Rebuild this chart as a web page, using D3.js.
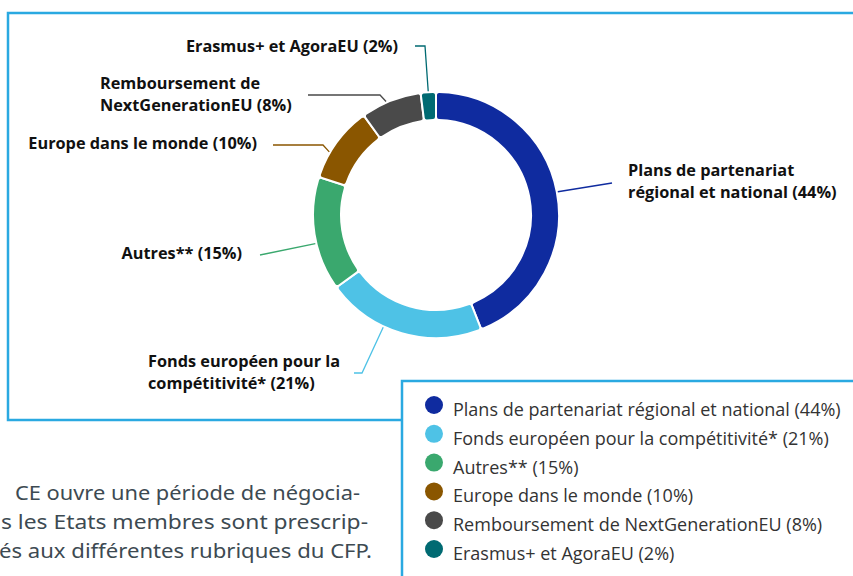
<!DOCTYPE html>
<html>
<head>
<meta charset="utf-8">
<script src="https://cdn.jsdelivr.net/npm/d3@7"></script>
<style>
  body { margin: 0; background: #fff; }
  svg { display: block; }
</style>
</head>
<body>
<svg id="chart" width="853" height="576"></svg>
<script>
// données du graphique
var categories = [
    "Plans de partenariat régional et national",
    "Fonds européen pour la compétitivité*",
    "Autres**",
    "Europe dans le monde",
    "Remboursement de NextGenerationEU",
    "Erasmus+ et AgoraEU"
]
var values = [44, 21, 15, 10, 8, 2]
var colors = ["#0f2b9f", "#4ec2e6", "#3aa86e", "#8a5600", "#4a4a4a", "#006a72"]
// libellés sur le graphique (retours à la ligne)
var labelLines = [
    ["Plans de partenariat", "régional et national (44%)"],
    ["Fonds européen pour la", "compétitivité* (21%)"],
    ["Autres** (15%)"],
    ["Europe dans le monde (10%)"],
    ["Remboursement de", "NextGenerationEU (8%)"],
    ["Erasmus+ et AgoraEU (2%)"]
]
var paragraph = [
    "CE ouvre une période de négocia-",
    "s les Etats membres sont prescrip-",
    "és aux différentes rubriques du CFP."
]

// mise en page
var cx = 436, cy = 215
var rOuter = 123, rInner = 95
var frameColor = "#2aa9e1"

// position des libellés et coudes des traits de rappel
var labelLayout = [
    { x: 628, y: 176, anchor: "start", elbow: [[612, 183]], nudge: 0 },
    { x: 148, y: 367, anchor: "start", elbow: [[354, 373], [362, 373]], nudge: 0.025 },
    { x: 242, y: 259, anchor: "end",   elbow: [[260, 255]], nudge: -0.012 },
    { x: 257, y: 149, anchor: "end",   elbow: [[273, 145], [323, 145]], nudge: -0.015 },
    { x: 100, y: 89,  anchor: "start", elbow: [[308, 95], [380, 95]], nudge: -0.006 },
    { x: 398, y: 52,  anchor: "end",   elbow: [[415, 46], [425, 46]], nudge: 0 }
]

var svg = d3.select("#chart")

// cadre principal
svg.append("rect")
    .attr("x", 8).attr("y", 13)
    .attr("width", 900).attr("height", 407)
    .attr("fill", "none")
    .attr("stroke", frameColor)
    .attr("stroke-width", 2.5)

var pie = d3.pie().sort(null).value(function (d) { return d })
var arcs = pie(values)

var arc = d3.arc()
    .innerRadius(rInner)
    .outerRadius(rOuter)
    .cornerRadius(3)

var g = svg.append("g").attr("transform", "translate(" + cx + "," + cy + ")")

g.selectAll("path.slice")
    .data(arcs)
    .enter()
    .append("path")
    .attr("class", "slice")
    .attr("d", arc)
    .attr("fill", function (d, i) { return colors[i] })
    .attr("stroke", "#fff")
    .attr("stroke-width", 2)

// traits de rappel
arcs.forEach(function (d, i) {
    var lay = labelLayout[i]
    var a = (d.startAngle + d.endAngle) / 2 + lay.nudge * 2 * Math.PI
    var p = [cx + (rOuter + 1) * Math.sin(a), cy - (rOuter + 1) * Math.cos(a)]
    var pts = lay.elbow.concat([p])
    svg.append("path")
        .attr("d", d3.line()(pts))
        .attr("fill", "none")
        .attr("stroke", colors[i])
        .attr("stroke-width", 1.3)
})

// libellés
labelLines.forEach(function (lines, i) {
    var lay = labelLayout[i]
    var t = svg.append("text")
        .attr("x", lay.x).attr("y", lay.y)
        .attr("text-anchor", lay.anchor)
        .attr("font-family", "'Open Sans', sans-serif")
        .attr("font-weight", "bold")
        .attr("font-size", "16.3px")
        .attr("fill", "#111")
    lines.forEach(function (l, j) {
        t.append("tspan")
            .attr("x", lay.x)
            .attr("dy", j === 0 ? 0 : 22)
            .text(l)
    })
})

// texte de la page derrière
var paraX = [15, 1, -1], paraEnd = [360, 368, 372]
paragraph.forEach(function (l, i) {
    svg.append("text")
        .attr("x", paraX[i])
        .attr("y", 500 + i * 29)
        .attr("font-family", "'Noto Sans', sans-serif")
        .attr("font-size", "20px")
        .attr("fill", "#3d4a52")
        .attr("textLength", paraEnd[i] - paraX[i])
        .attr("lengthAdjust", "spacingAndGlyphs")
        .text(l)
})

// boîte de légende
svg.append("rect")
    .attr("x", 402).attr("y", 381)
    .attr("width", 500).attr("height", 300)
    .attr("fill", "#fff")
    .attr("stroke", frameColor)
    .attr("stroke-width", 2.5)

var legend = svg.append("g")
var rowY = d3.scalePoint().domain(d3.range(categories.length)).range([405, 549])

categories.forEach(function (c, i) {
    legend.append("circle")
        .attr("cx", 434).attr("cy", rowY(i))
        .attr("r", 9)
        .attr("fill", colors[i])
    legend.append("text")
        .attr("x", 453).attr("y", rowY(i) + 11)
        .attr("font-family", "'Open Sans', sans-serif")
        .attr("font-size", "18px")
        .attr("fill", "#333")
        .text(c + " (" + values[i] + "%)")
})
</script>
</body>
</html>
